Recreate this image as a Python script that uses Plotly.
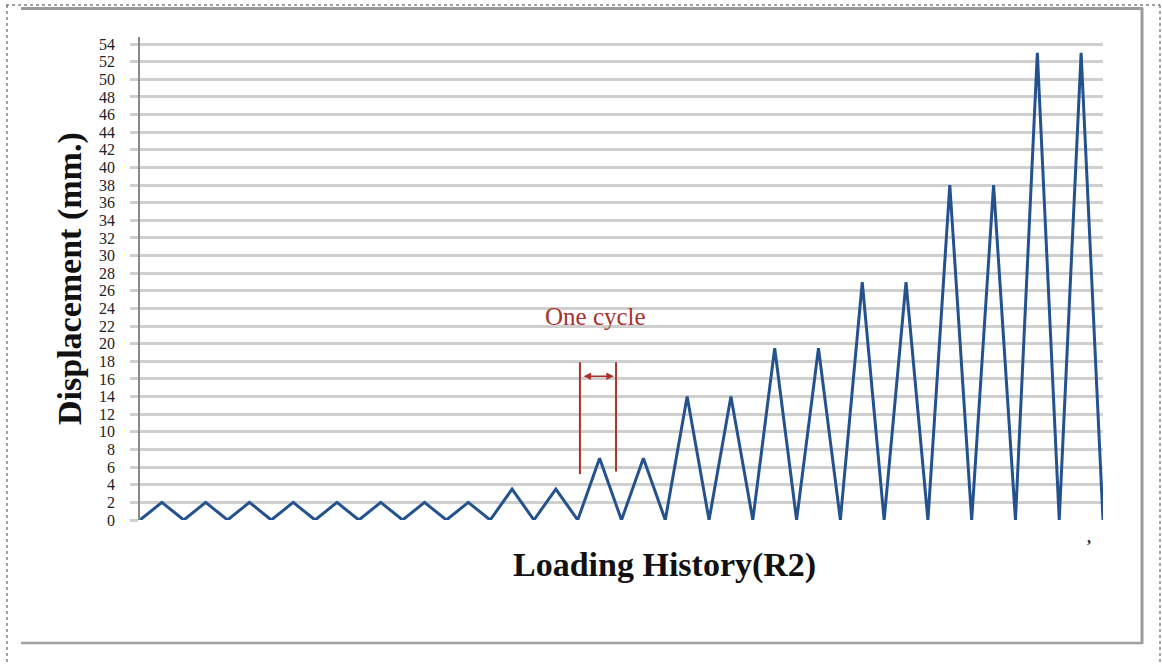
import plotly.graph_objects as go

# ---- data ----
step_index = list(range(45))
displacement = [0, 2, 0, 2, 0, 2, 0, 2, 0, 2, 0, 2, 0, 2, 0, 2, 0,
                3.5, 0, 3.5, 0,
                7, 0, 7, 0,
                14, 0, 14, 0,
                19.5, 0, 19.5, 0,
                27, 0, 27, 0,
                38, 0, 38, 0,
                53, 0, 53, 0]
y_ticks = list(range(0, 55, 2))
y_tick_labels = [str(v) for v in y_ticks]

W, H = 1162, 664
L, R, T, B = 140, 59, 37, 144
PW, PH = W - L - R, H - T - B


def px(x):
    return (x - L) / PW


def py(y):
    return (H - B - y) / PH


fig = go.Figure()
fig.add_trace(go.Scatter(
    x=step_index, y=displacement, mode="lines",
    line=dict(color="#24528f", width=3),
    showlegend=False, hoverinfo="skip",
))

red = "#a8322d"
shapes = []
# "One cycle" bracket
shapes.append(dict(type="line", xref="x", yref="y", x0=20.1, x1=20.1, y0=5.2, y1=17.9,
                   line=dict(color=red, width=2)))
shapes.append(dict(type="line", xref="x", yref="y", x0=21.75, x1=21.75, y0=5.5, y1=17.9,
                   line=dict(color=red, width=2)))

# surrounding frame (page decoration)
dot = dict(color="#444444", width=1, dash="dot")
shapes.append(dict(type="line", xref="paper", yref="paper", x0=px(6), x1=px(1160), y0=py(5), y1=py(5), line=dot))
shapes.append(dict(type="line", xref="paper", yref="paper", x0=px(7), x1=px(7), y0=py(5), y1=py(670), line=dot))
shapes.append(dict(type="line", xref="paper", yref="paper", x0=px(1160), x1=px(1160), y0=py(5), y1=py(670), line=dot))
gray = dict(color="#9a9a9a", width=3)
shapes.append(dict(type="line", xref="paper", yref="paper", x0=px(21), x1=px(1143), y0=py(8.5), y1=py(8.5), line=gray))
shapes.append(dict(type="line", xref="paper", yref="paper", x0=px(1142), x1=px(1142), y0=py(8), y1=py(644), line=gray))
shapes.append(dict(type="line", xref="paper", yref="paper", x0=px(21), x1=px(1143), y0=py(643), y1=py(643),
                   line=dict(color="#a0a0a0", width=2.5)))

annotations = [
    dict(text="<b>Displacement (mm.)</b>", xref="paper", yref="paper",
         x=px(70), y=py(279), textangle=-90, showarrow=False,
         xanchor="center", yanchor="middle",
         font=dict(family="Liberation Serif, Times New Roman, serif", size=34, color="#111111")),
    dict(text="<b>Loading History(R2)</b>", xref="paper", yref="paper",
         x=px(664), y=py(565), showarrow=False, xanchor="center", yanchor="middle",
         font=dict(family="Liberation Serif, Times New Roman, serif", size=34, color="#111111")),
    dict(text="One cycle", xref="x", yref="y", x=20.8, y=23.1, showarrow=False,
         xanchor="center", yanchor="middle",
         font=dict(family="Liberation Serif, Times New Roman, serif", size=25, color=red)),
    dict(text="", xref="x", yref="y", x=21.65, y=16.3, axref="x", ayref="y", ax=20.2, ay=16.3,
         showarrow=True, arrowside="end+start", arrowhead=2, arrowsize=1, arrowwidth=1.5,
         arrowcolor=red, standoff=0, startstandoff=0),
    dict(text="<b>,</b>", xref="paper", yref="paper", x=px(1093), y=py(548), showarrow=False,
         font=dict(family="Liberation Serif, serif", size=16, color="#222222")),
]

fig.update_layout(
    width=W, height=H,
    margin=dict(l=L, r=R, t=T, b=B),
    paper_bgcolor="white", plot_bgcolor="white",
    shapes=shapes, annotations=annotations,
    xaxis=dict(range=[0, 44], showgrid=False, zeroline=False, showline=False,
               showticklabels=False, ticks=""),
    yaxis=dict(range=[0, 54.8], tickvals=y_ticks, ticktext=y_tick_labels,
               showgrid=True, gridcolor="#cfcfcf", gridwidth=2.5,
               zeroline=False, showline=True, linecolor="#888888", linewidth=1.5,
               ticks="outside", ticklen=8, tickwidth=2.5, tickcolor="#cfcfcf",
               ticklabelstandoff=12,
               tickfont=dict(family="Liberation Serif, Times New Roman, serif", size=16, color="#222222")),
)

fig.write_html("out.html")
